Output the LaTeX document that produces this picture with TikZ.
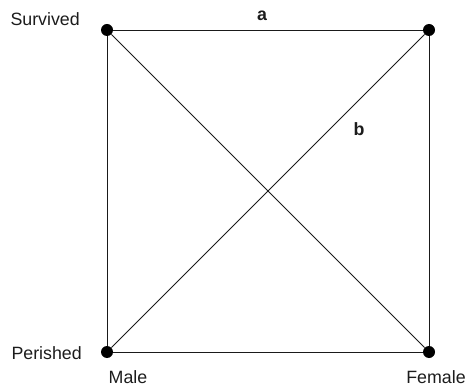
\documentclass[tikz,border=0pt]{standalone}
\usepackage{fontspec}
\setmainfont{Liberation Sans}
\usepackage{tikz}
\usetikzlibrary{positioning}
\definecolor{ink}{HTML}{000000}
\definecolor{edge}{HTML}{1A1A1A}
\definecolor{label}{HTML}{1C1C1C}

\begin{document}
\begin{tikzpicture}[x=1pt,y=-1pt,
    font=\fontsize{17.8}{20}\selectfont,
    dot/.style={circle,fill=ink,inner sep=0pt,minimum size=12pt},
    tie/.style={draw=edge,line width=0.9pt},
    side/.style={color=label,inner sep=0pt}]
  \useasboundingbox (0,0) rectangle (468,387);

  % the four cells
  \node[dot] (sm) at (107,30) {};
  \node[dot] (sf) at (429,30) {};
  \node[dot] (pm) at (107,352) {};
  \node[dot] (pf) at (429,352) {};

  \node[side,anchor=east] (surv) at (80,19) {Survived};
  \node[side,anchor=east] (per) at (82,353) {Perished};
  \node[side] (male) at (128,377) {Male};
  \node[side] (fem) at (436,377) {Female};

  \draw[tie] (sm) -- (sf);
  \draw[tie] (sm) -- (pm);
  \draw[tie] (sf) -- (pf);
  \draw[tie] (pm) -- (pf);
  \draw[tie] (sm) -- (pf);
  \draw[tie] (pm) -- (sf);

  \node[side,font=\fontsize{17.8}{20}\selectfont\bfseries] (a) at (262,16) {a};
  \node[side,font=\fontsize{17.8}{20}\selectfont\bfseries] (b) at (359,129) {b};
\end{tikzpicture}
\end{document}
